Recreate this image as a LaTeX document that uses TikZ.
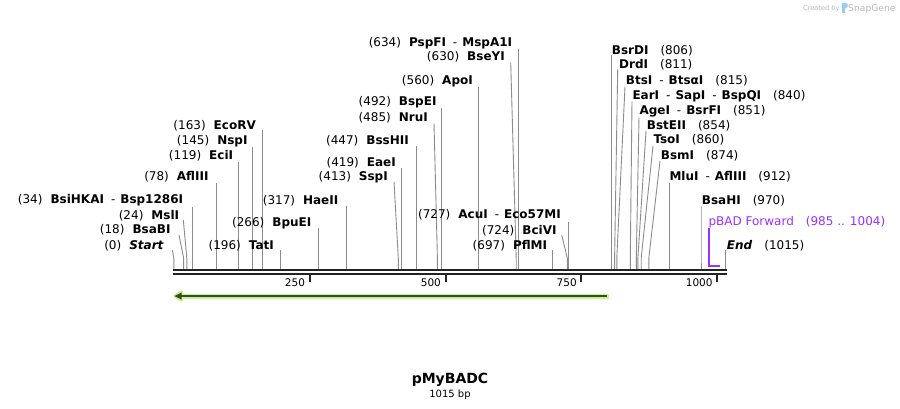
\documentclass[tikz,border=0pt]{standalone}
\usepackage{fontspec}
\setmainfont{DejaVu Sans}
\definecolor{axcol}{RGB}{35,35,35}
\definecolor{pincol}{RGB}{140,140,140}
\definecolor{primcol}{RGB}{155,48,255}
\definecolor{featgreen}{RGB}{195,245,135}
\definecolor{featdark}{RGB}{60,70,55}
\definecolor{wmgray}{RGB}{185,185,185}
\definecolor{wmblue}{RGB}{150,205,240}
\newcommand\cutL[2]{(#1)\hspace{8pt}\textbf{#2}}
\newcommand\cutR[2]{\textbf{#1}\hspace{12pt}(#2)}
\newcommand\dsh{\hspace{7pt}\textmd{-}\hspace{5pt}}
\tikzset{
  lbl/.style={inner sep=0pt, font=\fontsize{12}{14}\selectfont},
  lft/.style={lbl, anchor=base east},
  rgt/.style={lbl, anchor=base west},
  pinline/.style={draw=pincol, line width=0.9pt},
  axline/.style={draw=axcol, line width=2.3pt},
  tickline/.style={draw=axcol, line width=2pt},
  ticklbl/.style={inner sep=0pt, anchor=base east, font=\fontsize{10.5}{12}\selectfont},
  primer/.style={draw=primcol, line width=1.5pt},
}
\newcommand\cutpin[4]{%
  \coordinate (t#1) at (#2,#3);
  \coordinate (b#1) at (#4,269);
  \draw[pinline] (t#1) -- ([yshift=11pt]b#1) -- (b#1);}
\begin{document}
\begin{tikzpicture}[x=1pt,y=-1pt]
\useasboundingbox[fill=white] (0,0) rectangle (900,408);

% watermark
\node[anchor=base west, inner sep=0pt, text=wmgray, font=\fontsize{6.6}{7}\selectfont] (wm1) at (803,10) {Created by};
\fill[wmblue] (841.5,2.5) rectangle (845,12.5);
\fill[wmblue] (845,2.5) -- (847.5,4) -- (847.5,7) -- (845,8.5) -- cycle;
\node[anchor=base west, inner sep=0pt, text=wmgray, font=\fontsize{9.2}{10}\selectfont] (wm2) at (848,11) {SnapGene};

% pins
\cutpin{0}{172.3}{250}{173.8}
\cutpin{18}{179}{235}{183.6}
\cutpin{24}{183.3}{220}{186.8}
\cutpin{34}{192.3}{206.7}{192.3}
\cutpin{78}{216.2}{183.3}{216.2}
\cutpin{119}{238.5}{161.7}{238.5}
\cutpin{145}{252.6}{146.7}{252.6}
\cutpin{163}{262.4}{130}{262.4}
\cutpin{196}{280.3}{250}{280.3}
\cutpin{266}{318.4}{228}{318.4}
\cutpin{317}{346.1}{206}{346.1}
\cutpin{413}{394}{181.7}{398.3}
\cutpin{419}{401.5}{167.7}{401.5}
\cutpin{447}{416.7}{146}{416.7}
\cutpin{485}{434}{123.3}{437.4}
\cutpin{492}{441.2}{108.3}{441.2}
\cutpin{560}{478.2}{86.7}{478.2}
\cutpin{630}{510.7}{62.3}{516.2}
\cutpin{634}{518.4}{49}{518.4}
\cutpin{697}{552.6}{250}{552.6}
\cutpin{724}{561.7}{235}{567.3}
\cutpin{727}{568.9}{221.7}{568.9}
\cutpin{806}{611.9}{55}{611.9}
\cutpin{811}{617.7}{69.3}{614.6}
\cutpin{815}{625}{86.7}{616.8}
\cutpin{840}{632}{101.3}{630.3}
\cutpin{851}{639}{117.3}{636.3}
\cutpin{854}{646}{131}{637.9}
\cutpin{860}{653}{146}{641.2}
\cutpin{874}{660}{161}{648.8}
\cutpin{912}{669.5}{183}{669.5}
\cutpin{970}{701}{206}{701}
\cutpin{1015}{725.5}{250}{725.5}

% left labels
\node[lft] (lab0) at (164,249) {(0)\hspace{8pt}\textbf{\textit{Start}}};
\node[lft] (lab18) at (170.7,233.3) {\cutL{18}{BsaBI}};
\node[lft] (lab24) at (179.3,219) {\cutL{24}{MslI}};
\node[lft] (lab34) at (183.3,203.3) {\cutL{34}{BsiHKAI\dsh Bsp1286I}};
\node[lft] (lab78) at (208.7,180.7) {\cutL{78}{AflIII}};
\node[lft] (lab119) at (233.3,159) {\cutL{119}{EciI}};
\node[lft] (lab145) at (247.7,144) {\cutL{145}{NspI}};
\node[lft] (lab163) at (256,129) {\cutL{163}{EcoRV}};
\node[lft] (lab196) at (274,249) {\cutL{196}{TatI}};
\node[lft] (lab266) at (311.5,226.7) {\cutL{266}{BpuEI}};
\node[lft] (lab317) at (338.5,204) {\cutL{317}{HaeII}};
\node[lft] (lab413) at (388,180.7) {\cutL{413}{SspI}};
\node[lft] (lab419) at (396,166.3) {\cutL{419}{EaeI}};
\node[lft] (lab447) at (409,144) {\cutL{447}{BssHII}};
\node[lft] (lab485) at (428,121.3) {\cutL{485}{NruI}};
\node[lft] (lab492) at (436.7,105.7) {\cutL{492}{BspEI}};
\node[lft] (lab560) at (473,84) {\cutL{560}{ApoI}};
\node[lft] (lab630) at (505,60.7) {\cutL{630}{BseYI}};
\node[lft] (lab634) at (512.3,46.3) {\cutL{634}{PspFI\dsh MspA1I}};
\node[lft] (lab697) at (547.3,249) {\cutL{697}{PflMI}};
\node[lft] (lab724) at (556.7,234) {\cutL{724}{BciVI}};
\node[lft] (lab727) at (561,218.3) {\cutL{727}{AcuI\dsh Eco57MI}};

% right labels
\node[rgt] (lab806) at (611.7,54) {\cutR{BsrDI}{806}};
\node[rgt] (lab811) at (619,68.3) {\cutR{DrdI}{811}};
\node[rgt] (lab815) at (625.7,84) {\cutR{BtsI\dsh BtsαI}{815}};
\node[rgt] (lab840) at (632.3,99) {\cutR{EarI\dsh SapI\dsh BspQI}{840}};
\node[rgt] (lab851) at (639.3,114) {\cutR{AgeI\dsh BsrFI}{851}};
\node[rgt] (lab854) at (646.7,129) {\cutR{BstEII}{854}};
\node[rgt] (lab860) at (653.3,143.3) {\cutR{TsoI}{860}};
\node[rgt] (lab874) at (660.7,159) {\cutR{BsmI}{874}};
\node[rgt] (lab912) at (669.3,180.7) {\cutR{MluI\dsh AflIII}{912}};
\node[rgt] (lab970) at (701.7,204) {\cutR{BsaHI}{970}};
\node[rgt, text=primcol] (labpbad) at (708.3,225.7) {pBAD Forward\hspace{12pt}(985 .. 1004)};
\node[rgt] (lab1015) at (726.7,249) {\textbf{\textit{End}}\hspace{12pt}(1015)};

% primer bracket
\coordinate (pbS) at (709.1,228);
\coordinate (pbE) at (719.5,266);
\draw[primer] (pbS) |- (pbE);

% axis
\coordinate (axL) at (173,270);
\coordinate (axR) at (726.5,270);
\draw[axline] (axL) -- (axR);
\draw[axline] ([yshift=-4pt]axL) -- ([yshift=-4pt]axR);

% ticks
\foreach \tx/\tl in {309.7/250, 445.6/500, 581.4/750, 717.3/1000}{
  \draw[tickline] (\tx,275) -- (\tx,282);
  \node[ticklbl] (tk\tl) at (\tx-4.5,286.5) {\tl};
}

% feature arrow
\coordinate (fR) at (609,296);
\coordinate (fL) at (174.5,296);
\draw[featgreen, line width=5pt] (fR) -- ([xshift=5pt]fL);
\filldraw[featgreen, line width=2.5pt, line join=round] (fL) -- ++(7,-4.5) -- ++(0,9) -- cycle;
\draw[featdark, line width=1.6pt] ([xshift=-2.3pt]fR) -- ([xshift=5pt]fL);
\fill[featdark] (fL) -- ++(7,-3.5) -- ++(0,7) -- cycle;

% title
\node[anchor=base, inner sep=0pt, font=\bfseries\fontsize{14}{16}\selectfont] (title) at (450,383) {pMyBADC};
\node[anchor=base, inner sep=0pt, font=\fontsize{10}{12}\selectfont] (len) at (450,397.5) {1015 bp};
\end{tikzpicture}
\end{document}
